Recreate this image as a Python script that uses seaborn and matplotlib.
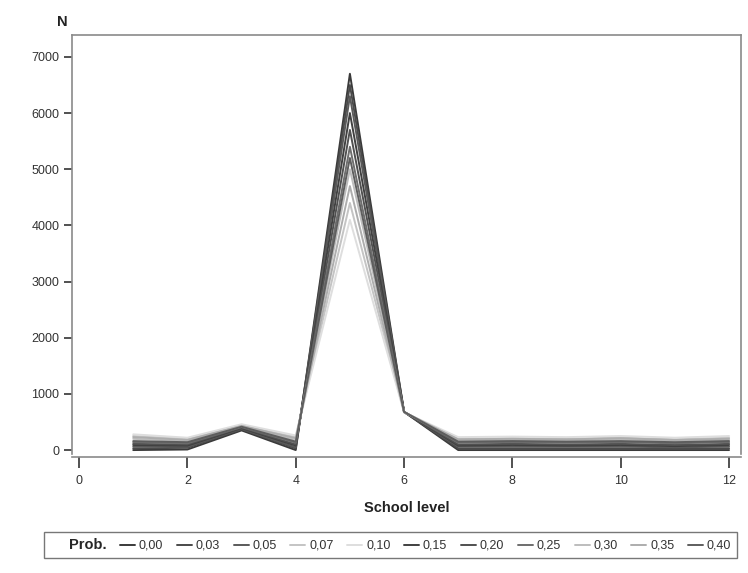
import matplotlib
matplotlib.use("Agg")
import matplotlib.pyplot as plt
from matplotlib.lines import Line2D
import seaborn as sns
import pandas as pd

# school levels on the x axis
levels = list(range(1, 13))

# one series of counts per probability
probs = ["0,00", "0,03", "0,05", "0,07", "0,10", "0,15", "0,20", "0,25", "0,30", "0,35", "0,40"]
n_000 = [0, 10, 350, 0, 6700, 680, 0, 0, 0, 0, 0, 0]
n_003 = [30, 40, 370, 30, 6500, 680, 30, 30, 30, 30, 20, 30]
n_005 = [60, 60, 380, 50, 6300, 680, 60, 60, 60, 60, 50, 60]
n_007 = [250, 200, 440, 230, 4400, 670, 200, 210, 200, 220, 190, 220]
n_010 = [280, 220, 460, 260, 4100, 670, 230, 240, 230, 250, 220, 250]
n_015 = [90, 80, 390, 80, 6000, 680, 80, 90, 80, 90, 70, 90]
n_020 = [110, 100, 400, 100, 5700, 680, 100, 110, 100, 110, 90, 110]
n_025 = [140, 120, 410, 130, 5400, 680, 130, 140, 130, 140, 120, 140]
n_030 = [200, 160, 420, 180, 5000, 680, 170, 180, 170, 190, 160, 180]
n_035 = [230, 180, 430, 210, 4700, 675, 190, 200, 190, 210, 180, 200]
n_040 = [160, 140, 415, 150, 5200, 680, 150, 160, 150, 160, 140, 160]
series = [n_000, n_003, n_005, n_007, n_010, n_015, n_020, n_025, n_030, n_035, n_040]

grays = ["#3a3a3a", "#4a4a4a", "#5a5a5a", "#c4c4c4", "#dedede", "#404040",
         "#505050", "#6e6e6e", "#bdbdbd", "#adadad", "#5e5e5e"]

rows = []
for p, vals in zip(probs, series):
    for lv, v in zip(levels, vals):
        rows.append({"level": lv, "N": v, "prob": p})
df = pd.DataFrame(rows)

sns.set_style("ticks")
plt.rcParams["font.family"] = ["Liberation Sans", "DejaVu Sans"]

fig = plt.figure(figsize=(7.48, 5.73), dpi=100)
ax = fig.add_axes([0.0963, 0.2077, 0.8943, 0.7312])

sns.lineplot(data=df, x="level", y="N", hue="prob", hue_order=probs,
             palette=dict(zip(probs, grays)), linewidth=1.4, legend=False, ax=ax)

ax.set_xlim(-0.13, 12.22)
ax.set_ylim(-70, 7390)
ax.set_xticks(range(0, 13, 2))
ax.set_yticks(range(0, 7001, 1000))
ax.tick_params(labelsize=9, colors="#333333", length=6, width=1.2, pad=3)
ax.tick_params(axis="x", length=8, pad=5)
for s in ax.spines.values():
    s.set_color("#8a8a8a")
    s.set_linewidth(1.2)
ax.spines["bottom"].set_position(("outward", 2))

ax.set_xlabel("School level", fontsize=10.5, fontweight="bold", color="#222222", labelpad=10)
ax.set_ylabel("")
fig.text(0.083, 0.955, "N", fontsize=10.5, fontweight="bold", color="#222222", ha="center")

handles = [Line2D([], [], color="none")]
labels = ["Prob."]
for p, line in zip(probs, ax.get_lines()):
    handles.append(Line2D([], [], color=line.get_color(), linewidth=1.4))
    labels.append(p)
leg = fig.legend(handles, labels, loc="center", bbox_to_anchor=(0.522, 0.049), ncol=12,
                 fontsize=9, frameon=True, fancybox=False, edgecolor="#555555",
                 handlelength=1.2, handletextpad=0.3, columnspacing=1.1,
                 borderpad=0.45, borderaxespad=0)
leg.get_frame().set_linewidth(1.0)
leg.get_texts()[0].set_fontweight("bold")
leg.get_texts()[0].set_fontsize(10.5)
for t in leg.get_texts()[1:]:
    t.set_color("#333333")

fig.savefig("out.png", dpi=100)
